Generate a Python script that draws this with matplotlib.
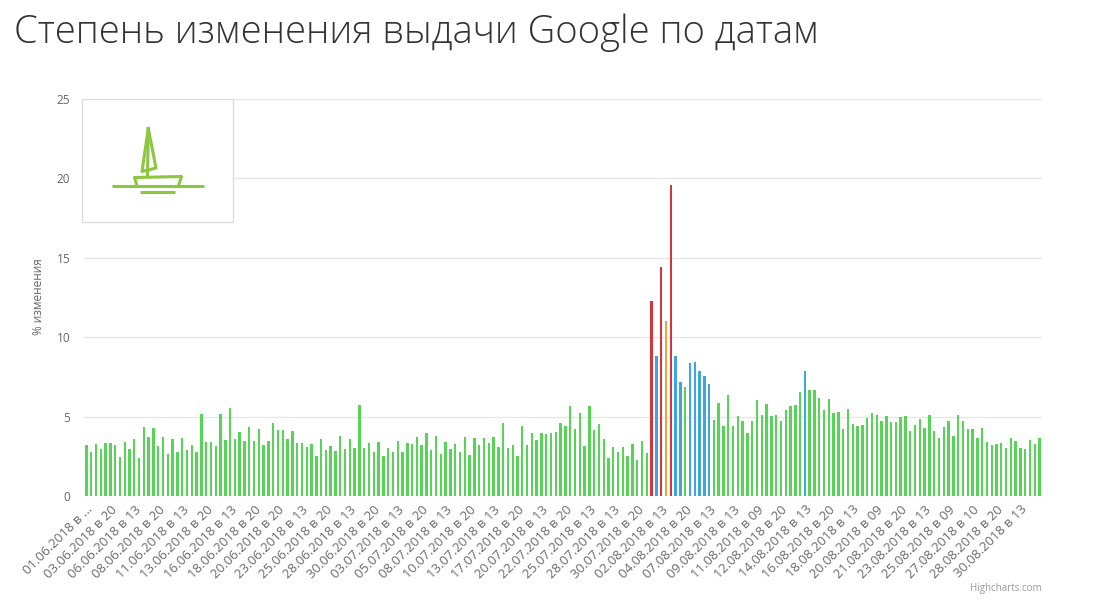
import matplotlib
matplotlib.use("Agg")
import matplotlib.pyplot as plt
import numpy as np

title = "Степень изменения выдачи Google по датам"
y_label = "% изменения"
credit = "Highcharts.com"

values = [
    3.20, 2.75, 3.27, 2.94, 3.34, 3.34, 3.20, 2.45, 3.40, 2.96,
    3.60, 2.39, 4.35, 3.74, 4.26, 3.13, 3.74, 2.62, 3.60, 2.75,
    3.67, 2.88, 3.20, 2.75, 5.14, 3.40, 3.40, 3.13, 5.14, 3.55,
    5.54, 3.60, 4.01, 3.46, 4.35, 3.46, 4.20, 3.20, 3.46, 4.62,
    4.14, 4.14, 3.58, 4.07, 3.34, 3.34, 3.06, 3.25, 2.52, 3.60,
    2.88, 3.13, 2.86, 3.80, 2.94, 3.60, 3.00, 5.75, 3.00, 3.34,
    2.75, 3.40, 2.52, 3.00, 2.75, 3.46, 2.75, 3.34, 3.27, 3.74,
    3.20, 3.94, 2.88, 3.80, 2.66, 3.40, 2.96, 3.27, 2.75, 3.74,
    2.58, 3.67, 3.20, 3.67, 3.34, 3.74, 3.06, 4.62, 3.00, 3.20,
    2.52, 4.41, 3.20, 3.94, 3.53, 3.94, 3.88, 3.94, 4.01, 4.62,
    4.41, 5.69, 4.20, 5.20, 3.13, 5.69, 4.14, 4.55, 3.60, 2.39,
    3.06, 2.75, 3.06, 2.52, 3.27, 2.27, 3.46, 2.73, 12.30, 8.82,
    14.44, 11.02, 19.58, 8.82, 7.16, 6.86, 8.37, 8.42, 7.87, 7.54,
    7.07, 4.81, 5.88, 4.41, 6.34, 4.41, 5.02, 4.74, 3.95, 4.74,
    6.03, 5.08, 5.81, 5.02, 5.08, 4.74, 5.42, 5.67, 5.75, 6.57,
    7.89, 6.67, 6.67, 6.15, 5.42, 6.09, 5.23, 5.29, 4.22, 5.48,
    4.53, 4.41, 4.47, 4.89, 5.20, 5.08, 4.74, 5.02, 4.68, 4.68,
    4.95, 5.02, 4.07, 4.47, 4.87, 4.28, 5.08, 4.07, 3.67, 4.35,
    4.74, 3.80, 5.08, 4.74, 4.20, 4.20, 3.67, 4.28, 3.40, 3.19,
    3.27, 3.34, 3.00, 3.67, 3.46, 3.00, 2.94, 3.53, 3.27, 3.67,
]

tick_labels = [
    "01.06.2018 в …", "03.06.2018 в 20", "06.06.2018 в 13", "08.06.2018 в 20",
    "11.06.2018 в 13", "13.06.2018 в 20", "16.06.2018 в 13", "18.06.2018 в 20",
    "20.06.2018 в 20", "23.06.2018 в 13", "25.06.2018 в 20", "28.06.2018 в 13",
    "30.06.2018 в 20", "03.07.2018 в 13", "05.07.2018 в 20", "08.07.2018 в 13",
    "10.07.2018 в 20", "13.07.2018 в 13", "17.07.2018 в 20", "20.07.2018 в 13",
    "22.07.2018 в 20", "25.07.2018 в 13", "28.07.2018 в 13", "30.07.2018 в 20",
    "02.08.2018 в 13", "04.08.2018 в 20", "07.08.2018 в 13", "09.08.2018 в 13",
    "11.08.2018 в 09", "12.08.2018 в 20", "14.08.2018 в 13", "16.08.2018 в 20",
    "18.08.2018 в 13", "20.08.2018 в 09", "21.08.2018 в 20", "23.08.2018 в 13",
    "25.08.2018 в 09", "27.08.2018 в 10", "28.08.2018 в 20", "30.08.2018 в 13",
]
tick_step = 5

# level thresholds -> colours
level_bounds = [7.0, 10.5, 12.0]
level_colors = ["#55d455", "#3ca6de", "#f2a431", "#d5343c"]

plt.rcParams["font.family"] = ["Open Sans", "DejaVu Sans"]

W, H = 1101, 612
fig = plt.figure(figsize=(W / 100, H / 100), dpi=100)
fig.patch.set_facecolor("white")

def fx(px):
    return px / W

def fy(py):
    return 1 - py / H

left, right, top, bottom = 84, 1042, 99, 496
ax = fig.add_axes([fx(left), fy(bottom), fx(right - left), (bottom - top) / H])

vals = np.array(values)
x = np.arange(len(vals))
lvl = np.digitize(vals, level_bounds)
cols = [level_colors[k] for k in lvl]
ax.bar(x, vals, width=0.5, color=cols, zorder=3, linewidth=0)

ax.set_xlim(-0.5, len(vals) - 0.5)
ax.set_ylim(0, 25)
ax.set_yticks([0, 5, 10, 15, 20, 25])
ax.grid(axis="y", color="#e6e6e6", linewidth=1, zorder=0)
for s in ax.spines.values():
    s.set_visible(False)
ax.tick_params(axis="y", length=0, pad=10, labelsize=8.5, labelcolor="#666666")
ax.set_yticklabels([str(v) for v in [0, 5, 10, 15, 20, 25]], ha="right")

tick_pos = np.arange(0, len(vals), tick_step)[: len(tick_labels)]
ax.set_xticks(tick_pos)
ax.set_xticklabels(tick_labels, rotation=45, ha="right", rotation_mode="anchor",
                   fontsize=9.5, color="#6a6a6a")
ax.tick_params(axis="x", length=0, pad=5)

fig.text(fx(38), fy(297), y_label, rotation=90, ha="center", va="center",
         fontsize=8.5, color="#666666")

fig.text(fx(14), fy(33), title, ha="left", va="center", fontsize=27.5,
         color="#333333", fontweight="light")

fig.text(fx(1042), fy(589), credit, ha="right", va="center", fontsize=7,
         color="#999999")

# logo box with sailboat
lax = fig.add_axes([0, 0, 1, 1], facecolor="none")
lax.set_xlim(0, W)
lax.set_ylim(H, 0)
lax.axis("off")
lax.add_patch(plt.Rectangle((82, 98.5), 150.5, 123, fill=True, facecolor="white",
                            edgecolor="#dcdcdc", linewidth=1, zorder=1))
g = "#8dc63f"
lw = 2.2
lax.plot([111.5, 203.5], [185.7, 185.7], color=g, lw=lw, solid_capstyle="butt", zorder=2)
lax.plot([140, 175], [191.5, 191.5], color=g, lw=lw, solid_capstyle="butt", zorder=2)
lax.plot([137, 134.5, 181.5, 178.5], [185.7, 177.5, 176.5, 185.7], color=g, lw=lw, zorder=2)
lax.plot([148.3, 142, 156, 148.3], [128.5, 171.5, 168, 128.5], color=g, lw=lw, zorder=2)
lax.plot([148.3, 147.5], [128.5, 176.5], color=g, lw=lw, zorder=2)

fig.savefig("out.png", dpi=100, facecolor="white")
